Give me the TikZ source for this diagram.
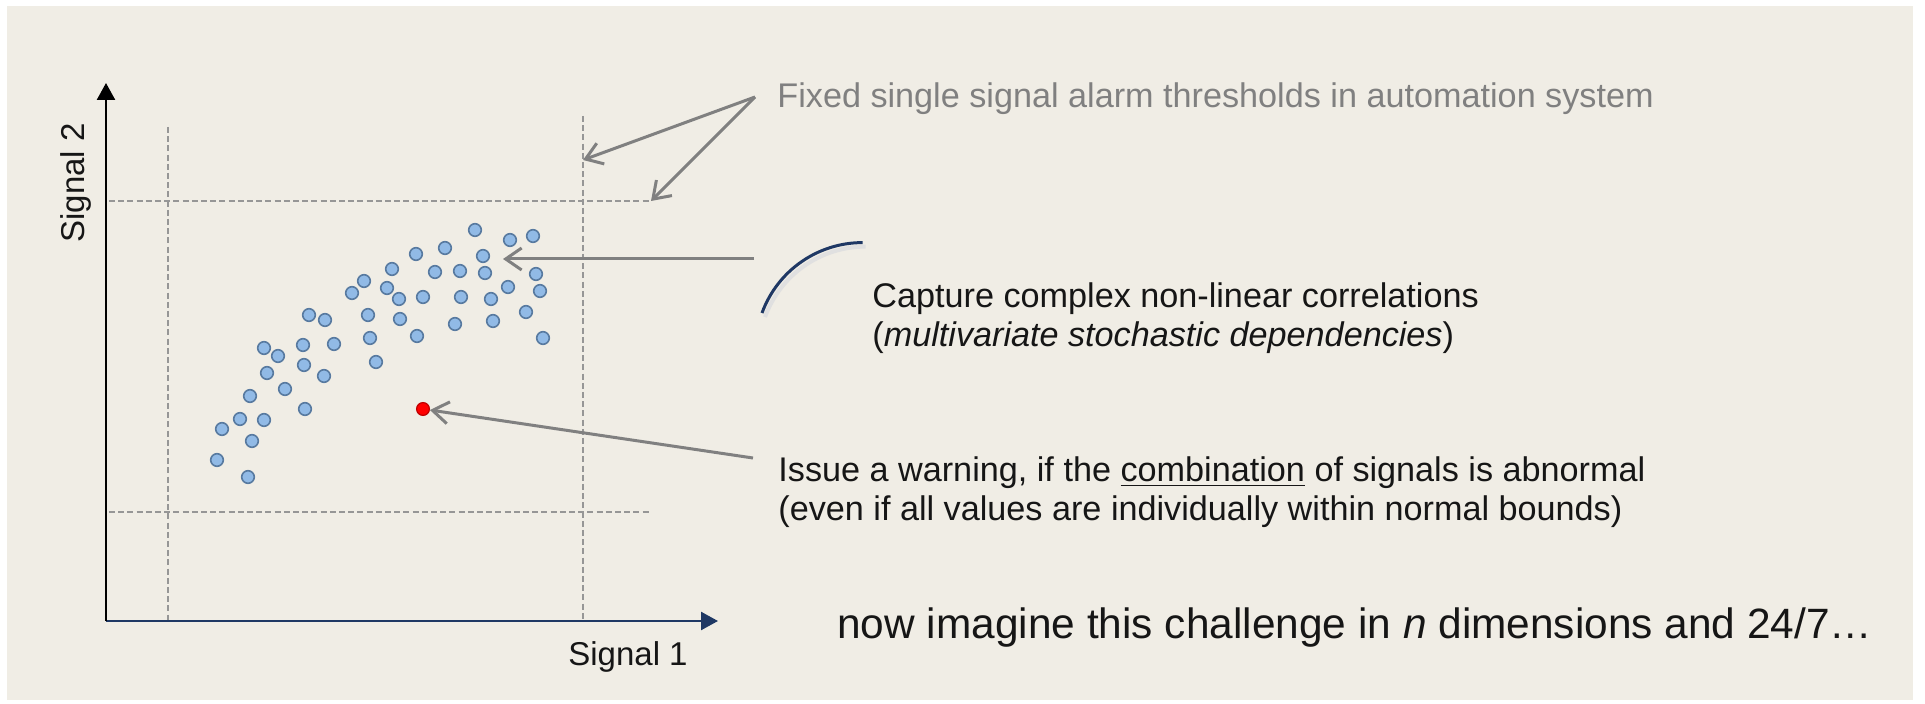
\documentclass[tikz,border=0pt]{standalone}
\usepackage{fontspec}
\setmainfont{Liberation Sans}
\usetikzlibrary{arrows.meta}

\definecolor{paper}{RGB}{240,237,229}
\definecolor{axisblue}{RGB}{31,56,100}
\definecolor{dotfill}{RGB}{145,186,230}
\definecolor{dotedge}{RGB}{88,122,160}
\definecolor{arrowgray}{RGB}{128,128,128}
\definecolor{limitgray}{RGB}{150,150,150}
\definecolor{ink}{RGB}{22,22,22}

\tikzset{
  threshold/.style={draw=limitgray, line width=0.6pt, dash pattern=on 3pt off 1.6pt},
  pointer/.style={draw=arrowgray, line width=1.5pt, -{Straight Barb[length=8pt,width=11pt]}},
  sample/.style={circle, draw=dotedge, fill=dotfill, line width=0.8pt, minimum size=6.3pt, inner sep=0pt},
  outlier/.style={circle, draw=red!75!black, fill=red, line width=0.6pt, minimum size=6.4pt, inner sep=0pt},
  note/.style={anchor=base west, inner sep=0pt, text=ink, font=\fontsize{17.1}{20}\selectfont},
  axislabel/.style={inner sep=0pt, text=ink, font=\fontsize{16.5}{20}\selectfont},
  axisline/.style={line width=1.2pt, -{Triangle[length=8.5pt,width=9pt]}}
}

\begin{document}
\begin{tikzpicture}[x=0.5pt,y=-0.5pt]
% canvas
\fill[white] (0,0) rectangle (1925,704);
\useasboundingbox (0,0) rectangle (1925,704);
\fill[paper] (7,6) rectangle (1913,700);

% alarm limits of the two signals
\draw[threshold] (168,127) -- (168,621);
\draw[threshold] (583,116) -- (583,621);
\draw[threshold] (109,201) -- (650,201);
\draw[threshold] (109,512) -- (650,512);

% axes
\coordinate (origin) at (106,621);
\coordinate (ytip) at (106,83);
\coordinate (xtip) at (718,621);
\draw[axisline, draw=axisblue, fill=axisblue] (origin) -- (xtip);
\draw[axisline, draw=black, fill=black] (origin) -- (ytip);
\node[axislabel] (xlabel) at (628,657) {Signal 1};
\node[axislabel, rotate=90] (ylabel) at (76,183) {Signal 2};

% normal operating samples
\foreach \px/\py [count=\i] in {
  475/230, 510/240, 533/236, 445/248, 416/254, 483/256, 392/269, 435/272,
  460/271, 485/273, 536/274, 364/281, 352/293, 387/288, 399/299, 423/297,
  461/297, 491/299, 508/287, 540/291, 526/312, 493/321, 455/324, 400/319,
  368/315, 309/315, 325/320, 417/336, 543/338, 370/338, 334/344, 303/345,
  264/348, 278/356, 304/365, 376/362, 267/373, 324/376, 285/389, 250/396,
  305/409, 240/419, 264/420, 222/429, 252/441, 217/460, 248/477}
  \node[sample] (d\i) at (\px,\py) {};

% abnormal combination
\node[outlier] (alarm) at (423,409) {};

% explanatory arrows
\coordinate (fixedsrc) at (755,97);
\coordinate (vlimit) at (583,160);
\coordinate (hlimit) at (651,201);
\draw[pointer] (fixedsrc) -- (vlimit);
\draw[pointer] (fixedsrc) -- (hlimit);

\coordinate (capsrc) at (754,259);
\coordinate (captip) at (503,259);
\draw[pointer] (capsrc) -- (captip);

\coordinate (issuesrc) at (753,458);
\draw[pointer] (issuesrc) -- (alarm);

% bracket arc beside the correlation note
\draw[black!12, line width=2pt] (765,317) arc[start angle=200, end angle=270, radius=107];
\draw[axisblue, line width=1.5pt] (762,313) arc[start angle=200, end angle=270, radius=107];

% texts
\node[note, text=arrowgray] (fixedtxt) at (777,108)
  {Fixed single signal alarm thresholds in automation system};
\node[note] (capture1) at (872,308) {Capture complex non-linear correlations};
\node[note] (capture2) at (872,347) {(\textit{multivariate stochastic dependencies})};
\node[note] (issue1) at (778,482)
  {Issue a warning, if the \underline{combination} of signals is abnormal};
\node[note] (issue2) at (778,521)
  {(even if all values are individually within normal bounds)};
\node[note, font=\fontsize{21.2}{25}\selectfont] (outlook) at (837,638)
  {now imagine this challenge in \textit{n} dimensions and 24/7…};
\end{tikzpicture}
\end{document}
